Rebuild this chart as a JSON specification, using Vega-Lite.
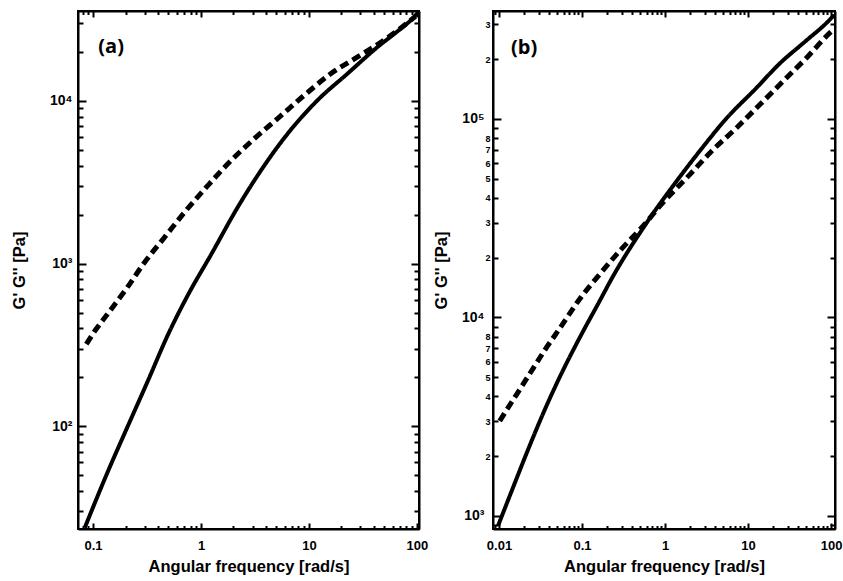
{
  "$schema": "https://vega.github.io/schema/vega-lite/v6.json",
  "background": "white",
  "padding": {"left": 10, "top": 2, "right": 6, "bottom": 2},
  "spacing": 3,
  "config": {
    "view": {"stroke": "black", "strokeWidth": 2},
    "axis": {
      "grid": false, "domainColor": "black", "domainWidth": 2, "tickColor": "black", "tickWidth": 2,
      "labelFont": "Liberation Sans", "labelFontWeight": "bold", "labelFontSize": 13, "labelColor": "black",
      "titleFont": "Liberation Sans", "titleFontWeight": "bold", "titleFontSize": 16.5, "titleColor": "black",
      "labelOverlap": false, "labelFlush": false, "minExtent": 0
    }
  },
  "hconcat": [
    {
      "width": 341, "height": 518,
      "layer": [
        {
          "data": {"values": [
            {"series": "G'", "omega": 0.0838, "G": 23.8},
            {"series": "G'", "omega": 0.138, "G": 53.2},
            {"series": "G'", "omega": 0.211, "G": 101},
            {"series": "G'", "omega": 0.323, "G": 191},
            {"series": "G'", "omega": 0.494, "G": 365},
            {"series": "G'", "omega": 0.758, "G": 642},
            {"series": "G'", "omega": 1.245, "G": 1140},
            {"series": "G'", "omega": 2.19, "G": 2220},
            {"series": "G'", "omega": 3.59, "G": 3730},
            {"series": "G'", "omega": 6.35, "G": 6280},
            {"series": "G'", "omega": 12.0, "G": 10070},
            {"series": "G'", "omega": 22.8, "G": 14700},
            {"series": "G'", "omega": 43.2, "G": 21400},
            {"series": "G'", "omega": 71.1, "G": 27800},
            {"series": "G'", "omega": 94.4, "G": 32800},
            {"series": "G'", "omega": 104.5, "G": 35600},
            {"series": "G''", "omega": 0.0867, "G": 320},
            {"series": "G''", "omega": 0.107, "G": 396},
            {"series": "G''", "omega": 0.133, "G": 479},
            {"series": "G''", "omega": 0.203, "G": 698},
            {"series": "G''", "omega": 0.301, "G": 1019},
            {"series": "G''", "omega": 0.461, "G": 1452},
            {"series": "G''", "omega": 0.706, "G": 2070},
            {"series": "G''", "omega": 1.16, "G": 3020},
            {"series": "G''", "omega": 1.9, "G": 4300},
            {"series": "G''", "omega": 3.12, "G": 5850},
            {"series": "G''", "omega": 5.31, "G": 7940},
            {"series": "G''", "omega": 9.04, "G": 10800},
            {"series": "G''", "omega": 16.0, "G": 14700},
            {"series": "G''", "omega": 28.2, "G": 18600},
            {"series": "G''", "omega": 49.8, "G": 23600},
            {"series": "G''", "omega": 71.1, "G": 28000},
            {"series": "G''", "omega": 97, "G": 33000}
          ]},
          "mark": {"type": "line", "color": "black", "interpolate": "monotone"},
          "encoding": {
            "x": {"field": "omega", "type": "quantitative",
              "scale": {"type": "log", "domain": [0.0726, 104.5], "nice": false},
              "axis": {"orient": "bottom", "title": "Angular frequency [rad/s]",
                "values": [0.08,0.09,0.1,0.2,0.3,0.4,0.5,0.6,0.7,0.8,0.9,1,2,3,4,5,6,7,8,9,10,20,30,40,50,60,70,80,90,100],
                "labelExpr": "abs(log(datum.value)/LN10 - round(log(datum.value)/LN10)) < 0.001 ? toString(datum.value) : ''",
                "tickSize": {"condition": {"test": "abs(log(datum.value)/LN10 - round(log(datum.value)/LN10)) < 0.001", "value": -6}, "value": -3.5},
                "labelPadding": 16, "titlePadding": 4}},
            "y": {"field": "G", "type": "quantitative",
              "scale": {"type": "log", "domain": [23.4, 35600], "nice": false},
              "axis": {"orient": "left", "title": "G' G'' [Pa]",
                "values": [30,40,50,60,70,80,90,100,200,300,400,500,600,700,800,900,1000,2000,3000,4000,5000,6000,7000,8000,9000,10000,20000,30000],
                "labelExpr": "abs(log(datum.value)/LN10 - round(log(datum.value)/LN10)) < 0.001 ? '10' + ['⁰','¹','²','³','⁴','⁵','⁶'][round(log(datum.value)/LN10)] : ''",
                "labelFontSize": 14,
                "tickSize": {"condition": {"test": "abs(log(datum.value)/LN10 - round(log(datum.value)/LN10)) < 0.001", "value": -8}, "value": -5},
                "labelPadding": 14, "titlePadding": 22}},
            "strokeDash": {"field": "series", "type": "nominal", "scale": {"domain": ["G'", "G''"], "range": [[1, 0], [9, 5]]}, "legend": null},
            "strokeWidth": {"field": "series", "type": "ordinal", "scale": {"domain": ["G'", "G''"], "range": [4, 5]}, "legend": null}
          }
        },
        {
          "data": {"values": [{"omega": 0.112, "G": 21300, "label": "(a)"}]},
          "mark": {"type": "text", "font": "Open Sans", "fontWeight": "bold", "fontSize": 20, "align": "left", "baseline": "middle", "color": "black"},
          "encoding": {
            "x": {"field": "omega", "type": "quantitative",
              "scale": {"type": "log", "domain": [0.0726, 104.5], "nice": false},
              "axis": {"orient": "top", "title": null, "labels": false,
                "values": [0.08,0.09,0.1,0.2,0.3,0.4,0.5,0.6,0.7,0.8,0.9,1,2,3,4,5,6,7,8,9,10,20,30,40,50,60,70,80,90,100],
                "tickSize": {"condition": {"test": "abs(log(datum.value)/LN10 - round(log(datum.value)/LN10)) < 0.001", "value": -6}, "value": -3.5}}},
            "y": {"field": "G", "type": "quantitative",
              "scale": {"type": "log", "domain": [23.4, 35600], "nice": false},
              "axis": {"orient": "right", "title": null, "labels": false,
                "values": [30,40,50,60,70,80,90,100,200,300,400,500,600,700,800,900,1000,2000,3000,4000,5000,6000,7000,8000,9000,10000,20000,30000],
                "tickSize": {"condition": {"test": "abs(log(datum.value)/LN10 - round(log(datum.value)/LN10)) < 0.001", "value": -8}, "value": -5}}},
            "text": {"field": "label"}
          }
        }
      ],
      "resolve": {"axis": {"x": "independent", "y": "independent"}}
    },
    {
      "width": 342, "height": 518,
      "layer": [
        {
          "data": {"values": [
            {"series": "G'", "omega": 0.00972, "G": 891},
            {"series": "G'", "omega": 0.01475, "G": 1390},
            {"series": "G'", "omega": 0.0224, "G": 2160},
            {"series": "G'", "omega": 0.0356, "G": 3430},
            {"series": "G'", "omega": 0.0539, "G": 5010},
            {"series": "G'", "omega": 0.0938, "G": 7910},
            {"series": "G'", "omega": 0.163, "G": 12100},
            {"series": "G'", "omega": 0.23, "G": 15800},
            {"series": "G'", "omega": 0.585, "G": 29500},
            {"series": "G'", "omega": 1.48, "G": 50600},
            {"series": "G'", "omega": 2.81, "G": 71600},
            {"series": "G'", "omega": 5.38, "G": 99700},
            {"series": "G'", "omega": 12.7, "G": 143800},
            {"series": "G'", "omega": 23.6, "G": 188800},
            {"series": "G'", "omega": 49.5, "G": 247000},
            {"series": "G'", "omega": 88.7, "G": 305500},
            {"series": "G'", "omega": 110, "G": 335000},
            {"series": "G''", "omega": 0.0102, "G": 3010},
            {"series": "G''", "omega": 0.01225, "G": 3400},
            {"series": "G''", "omega": 0.0162, "G": 4080},
            {"series": "G''", "omega": 0.0204, "G": 4750},
            {"series": "G''", "omega": 0.0257, "G": 5530},
            {"series": "G''", "omega": 0.0339, "G": 6640},
            {"series": "G''", "omega": 0.0563, "G": 9050},
            {"series": "G''", "omega": 0.0938, "G": 12400},
            {"series": "G''", "omega": 0.163, "G": 16500},
            {"series": "G''", "omega": 0.298, "G": 22100},
            {"series": "G''", "omega": 0.569, "G": 29500},
            {"series": "G''", "omega": 0.87, "G": 36500},
            {"series": "G''", "omega": 2.0, "G": 52600},
            {"series": "G''", "omega": 3.66, "G": 69000},
            {"series": "G''", "omega": 7.31, "G": 90400},
            {"series": "G''", "omega": 14.0, "G": 118600},
            {"series": "G''", "omega": 26.6, "G": 155300},
            {"series": "G''", "omega": 50.9, "G": 203700},
            {"series": "G''", "omega": 97.3, "G": 272300},
            {"series": "G''", "omega": 110, "G": 285000}
          ]},
          "mark": {"type": "line", "color": "black", "interpolate": "monotone"},
          "encoding": {
            "x": {"field": "omega", "type": "quantitative",
              "scale": {"type": "log", "domain": [0.00847, 111.6], "nice": false},
              "axis": {"orient": "bottom", "title": "Angular frequency [rad/s]",
                "values": [0.009,0.01,0.02,0.03,0.04,0.05,0.06,0.07,0.08,0.09,0.1,0.2,0.3,0.4,0.5,0.6,0.7,0.8,0.9,1,2,3,4,5,6,7,8,9,10,20,30,40,50,60,70,80,90,100],
                "labelExpr": "abs(log(datum.value)/LN10 - round(log(datum.value)/LN10)) < 0.001 ? toString(datum.value) : ''",
                "tickSize": {"condition": {"test": "abs(log(datum.value)/LN10 - round(log(datum.value)/LN10)) < 0.001", "value": -6}, "value": -3.5},
                "labelPadding": 16, "titlePadding": 4}},
            "y": {"field": "G", "type": "quantitative",
              "scale": {"type": "log", "domain": [860, 350000], "nice": false},
              "axis": {"orient": "left", "title": "G' G'' [Pa]",
                "values": [900,1000,2000,3000,4000,5000,6000,7000,8000,9000,10000,20000,30000,40000,50000,60000,70000,80000,90000,100000,200000,300000],
                "labelExpr": "abs(log(datum.value)/LN10 - round(log(datum.value)/LN10)) < 0.001 ? '10' + ['⁰','¹','²','³','⁴','⁵','⁶'][round(log(datum.value)/LN10)] : (round(datum.value / pow(10, floor(log(datum.value)/LN10 + 0.0001))) <= 8 ? toString(round(datum.value / pow(10, floor(log(datum.value)/LN10 + 0.0001)))) : '')",
                "labelFontSize": {"condition": {"test": "abs(log(datum.value)/LN10 - round(log(datum.value)/LN10)) < 0.001", "value": 14}, "value": 9},
                "labelPadding": {"condition": {"test": "abs(log(datum.value)/LN10 - round(log(datum.value)/LN10)) < 0.001", "value": 17}, "value": 8},
                "tickSize": {"condition": {"test": "abs(log(datum.value)/LN10 - round(log(datum.value)/LN10)) < 0.001", "value": -8}, "value": -5},
                "titlePadding": 12}},
            "strokeDash": {"field": "series", "type": "nominal", "scale": {"domain": ["G'", "G''"], "range": [[1, 0], [9, 5]]}, "legend": null},
            "strokeWidth": {"field": "series", "type": "ordinal", "scale": {"domain": ["G'", "G''"], "range": [4, 5]}, "legend": null}
          }
        },
        {
          "data": {"values": [{"omega": 0.01395, "G": 228000, "label": "(b)"}]},
          "mark": {"type": "text", "font": "Open Sans", "fontWeight": "bold", "fontSize": 20, "align": "left", "baseline": "middle", "color": "black"},
          "encoding": {
            "x": {"field": "omega", "type": "quantitative",
              "scale": {"type": "log", "domain": [0.00847, 111.6], "nice": false},
              "axis": {"orient": "top", "title": null, "labels": false,
                "values": [0.009,0.01,0.02,0.03,0.04,0.05,0.06,0.07,0.08,0.09,0.1,0.2,0.3,0.4,0.5,0.6,0.7,0.8,0.9,1,2,3,4,5,6,7,8,9,10,20,30,40,50,60,70,80,90,100],
                "tickSize": {"condition": {"test": "abs(log(datum.value)/LN10 - round(log(datum.value)/LN10)) < 0.001", "value": -6}, "value": -3.5}}},
            "y": {"field": "G", "type": "quantitative",
              "scale": {"type": "log", "domain": [860, 350000], "nice": false},
              "axis": {"orient": "right", "title": null, "labels": false,
                "values": [900,1000,2000,3000,4000,5000,6000,7000,8000,9000,10000,20000,30000,40000,50000,60000,70000,80000,90000,100000,200000,300000],
                "tickSize": {"condition": {"test": "abs(log(datum.value)/LN10 - round(log(datum.value)/LN10)) < 0.001", "value": -8}, "value": -5}}},
            "text": {"field": "label"}
          }
        }
      ],
      "resolve": {"axis": {"x": "independent", "y": "independent"}}
    }
  ]
}
